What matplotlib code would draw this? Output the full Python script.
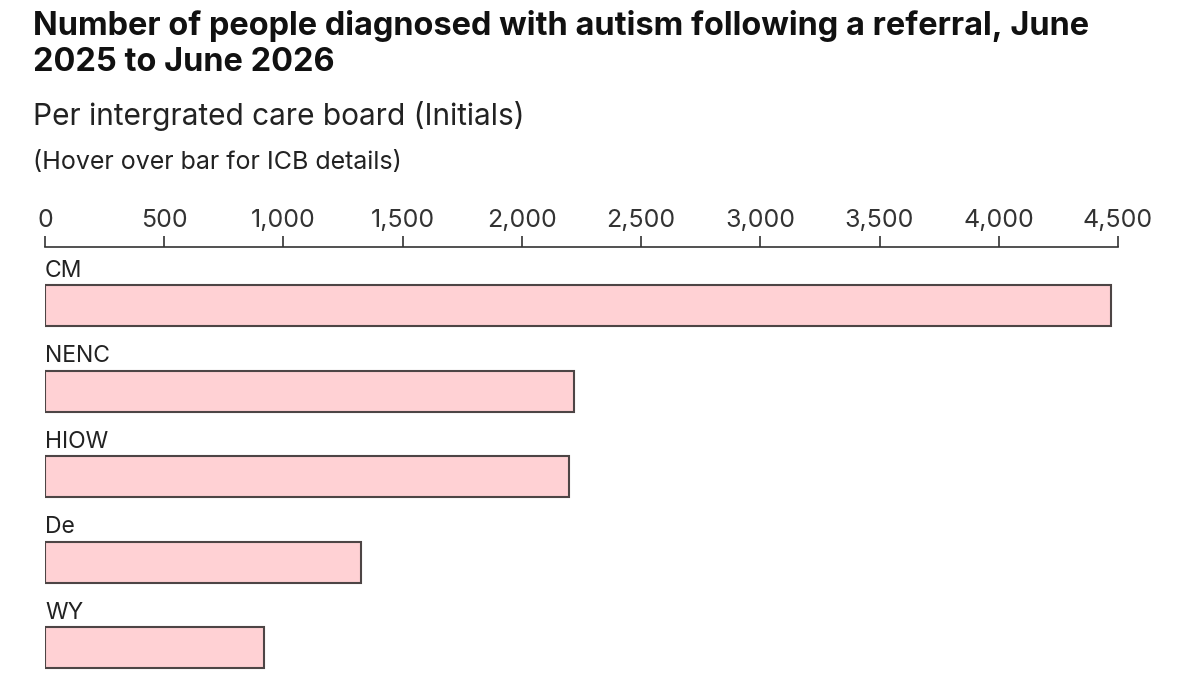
import matplotlib.pyplot as plt

plt.rcParams['font.family'] = ['Inter', 'DejaVu Sans']

# data
boards = ['CM', 'NENC', 'HIOW', 'De', 'WY']
diagnosed = [4469, 2219, 2199, 1324, 918]
ticks = [0, 500, 1000, 1500, 2000, 2500, 3000, 3500, 4000, 4500]

fig = plt.figure(figsize=(12, 6.75), dpi=100)

fig.text(33/1200, 1 - 44/675,
         'Number of people diagnosed with autism following a referral, June\n2025 to June 2026',
         fontsize=23.4, fontweight='bold', color='#111111', va='center', ha='left', linespacing=1.2)
fig.text(33/1200, 1 - 116/675, 'Per intergrated care board (Initials)',
         fontsize=21.5, color='#222222', va='center', ha='left')
fig.text(33/1200, 1 - 163/675, '(Hover over bar for ICB details)',
         fontsize=18, color='#222222', va='center', ha='left')

ax = fig.add_axes([45/1200, 0, (1118-45)/1200, (675-247)/675])
pos = list(range(len(boards)))
ax.barh(pos, diagnosed, height=0.48, color='#ffd1d4', edgecolor='#4d4545', linewidth=1.5)

for i, name in zip(pos, boards):
    ax.text(0, i - 0.24 - 0.04, name, fontsize=16.5, color='#222222', ha='left', va='bottom')

ax.set_xlim(0, 4500)
ax.set_ylim(4.32, -0.684)
ax.set_xticks(ticks)
ax.set_xticklabels([f'{t:,}' for t in ticks])
ax.xaxis.tick_top()
ax.tick_params(axis='x', length=8, width=1.2, color='#333333', labelsize=18,
               labelcolor='#333333', pad=3)
ax.set_yticks([])
for s in ['right', 'bottom', 'left']:
    ax.spines[s].set_visible(False)
ax.spines['top'].set_linewidth(1.2)
ax.spines['top'].set_color('#333333')

fig.savefig('out.png', dpi=100)
